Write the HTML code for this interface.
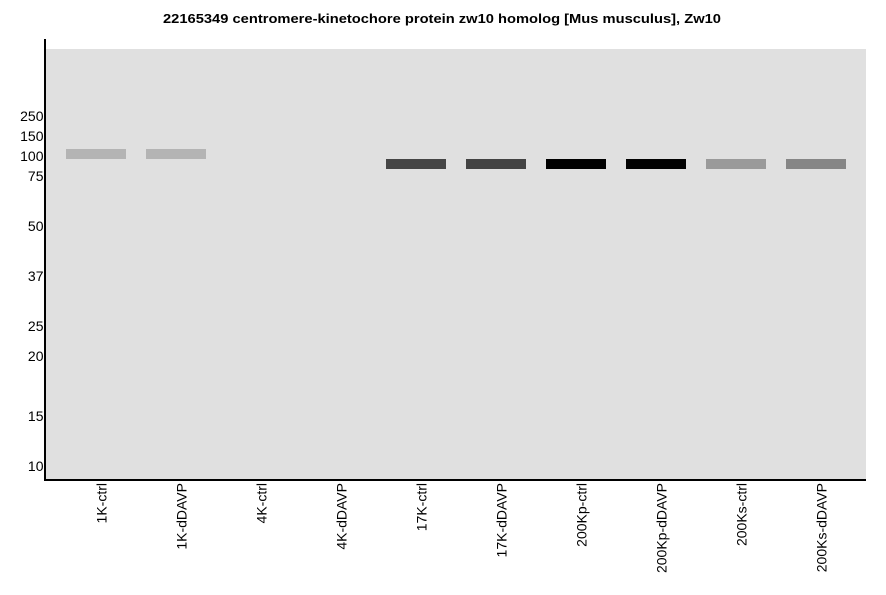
<!DOCTYPE html>
<html>
<head>
<meta charset="utf-8">
<style>
  html,body{margin:0;padding:0;background:#ffffff;}
  svg{display:block;}
  text{font-family:"Liberation Sans",Arial,sans-serif;fill:#000;}
</style>
</head>
<body>
<svg width="886" height="595" viewBox="0 0 886 595" xmlns="http://www.w3.org/2000/svg">
  <rect x="0" y="0" width="886" height="595" fill="#ffffff"/>
  <!-- title -->
  <text x="163" y="23" font-size="13" font-weight="bold" textLength="558" lengthAdjust="spacingAndGlyphs">22165349 centromere-kinetochore protein zw10 homolog [Mus musculus], Zw10</text>
  <!-- plot area -->
  <rect x="46" y="49" width="820" height="430" fill="#e0e0e0"/>
  <!-- axes -->
  <rect x="44" y="39" width="2" height="442" fill="#000"/>
  <rect x="44" y="479" width="822" height="2" fill="#000"/>
  <!-- y tick labels -->
  <g font-size="14" text-anchor="end">
    <text x="43.5" y="121">250</text>
    <text x="43.5" y="141">150</text>
    <text x="43.5" y="161">100</text>
    <text x="43.5" y="181">75</text>
    <text x="43.5" y="231">50</text>
    <text x="43.5" y="281">37</text>
    <text x="43.5" y="331">25</text>
    <text x="43.5" y="361">20</text>
    <text x="43.5" y="421">15</text>
    <text x="43.5" y="471">10</text>
  </g>
  <!-- bands -->
  <rect x="66" y="149" width="60" height="10" fill="#b4b4b4"/>
  <rect x="146" y="149" width="60" height="10" fill="#b4b4b4"/>
  <rect x="386" y="159" width="60" height="10" fill="#454545"/>
  <rect x="466" y="159" width="60" height="10" fill="#434343"/>
  <rect x="546" y="159" width="60" height="10" fill="#000000"/>
  <rect x="626" y="159" width="60" height="10" fill="#020202"/>
  <rect x="706" y="159" width="60" height="10" fill="#9a9a9a"/>
  <rect x="786" y="159" width="60" height="10" fill="#868686"/>
  <!-- x labels -->
  <g font-size="14" text-anchor="end">
    <text transform="translate(106.5,483) rotate(-90)">1K-ctrl</text>
    <text transform="translate(186.5,483) rotate(-90)">1K-dDAVP</text>
    <text transform="translate(266.5,483) rotate(-90)">4K-ctrl</text>
    <text transform="translate(346.5,483) rotate(-90)">4K-dDAVP</text>
    <text transform="translate(426.5,483) rotate(-90)">17K-ctrl</text>
    <text transform="translate(506.5,483) rotate(-90)">17K-dDAVP</text>
    <text transform="translate(586.5,483) rotate(-90)">200Kp-ctrl</text>
    <text transform="translate(666.5,483) rotate(-90)">200Kp-dDAVP</text>
    <text transform="translate(746.5,483) rotate(-90)">200Ks-ctrl</text>
    <text transform="translate(826.5,483) rotate(-90)">200Ks-dDAVP</text>
  </g>
</svg>
</body>
</html>
